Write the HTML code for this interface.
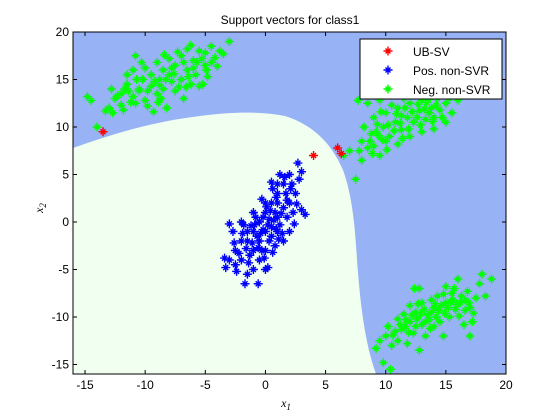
<!DOCTYPE html>
<html><head><meta charset="utf-8"><style>
body{margin:0;background:#fff;}
svg{display:block;font-family:"Liberation Sans",sans-serif;}
</style></head><body>
<svg id="chart" width="560" height="420" viewBox="0 0 560 420" xmlns="http://www.w3.org/2000/svg">
<rect x="0" y="0" width="560" height="420" fill="#ffffff"/>
<g id="plot">
<rect x="73" y="32" width="433" height="342" fill="#98b2f6"/>
<path fill="#f0fff0" d="M73,148 C110,135 150,122 200,116 C230,112 260,111 285,116 C310,124 330,140 343,170 C352,195 355,225 357,260 C360,300 364,340 376,374 L73,374 Z"/>
</g>
<g id="marks"></g>
<rect x="73" y="32" width="433" height="342" fill="none" stroke="#000" stroke-width="1"/>
<g id="axes"></g>
<text x="290" y="24" font-size="12" text-anchor="middle">Support vectors for class1</text>
<text x="286" y="407" font-size="12" font-family="Liberation Serif,serif" font-style="italic" text-anchor="middle">x<tspan font-size="9" dy="3">1</tspan></text>
<text transform="translate(43,208) rotate(-90)" font-size="12" font-family="Liberation Serif,serif" font-style="italic" text-anchor="middle">x<tspan font-size="9" dy="3">2</tspan></text>
<g>
<rect x="360" y="39" width="142" height="60" fill="#fff" stroke="#000"/>
<g id="legendMarks"></g>
<text x="413" y="56" font-size="12">UB-SV</text>
<text x="413" y="75" font-size="12">Pos. non-SVR</text>
<text x="413" y="94" font-size="12">Neg. non-SVR</text>
</g>
</svg>
<script>
const xTicks=[-15,-10,-5,0,5,10,15,20];
const yTicks=[-15,-10,-5,0,5,10,15,20];
const ubSV=[[-13.5,9.5],[4,7],[6,7.8],[6.3,7.2]];
const posPts=[[-2.5,-3],[-2,-4],[-1.5,-2],[-1,-1],[-0.5,0],[0,1],[0.5,2],[1,3],[1.5,4],[2,5],[0,-1],[0.5,-0.5],[1,0.5],[1.5,1.5],[-1,-3],[-0.5,-2],[0,-3],[0.5,-1.5],[1,-1],[-1.5,-1],[-2,0],[-1,1],[0,2],[1,4],[2,2],[2.5,3],[3,1.3],[2,-1],[1.5,-2],[-0.5,-4],[-1,-5],[-1.5,-5.5],[-2.5,-4.5],[-3,-4],[-2,-2],[-1.3,-3.5],[0.3,0.3],[-0.2,-0.8],[0.8,1],[1.2,-0.3],[0.6,3.5],[2.8,4.5],[3,5.3],[2.7,6.2],[2.2,4],[1.8,0.5],[-0.8,0.5],[-1.8,-0.3],[-2.7,-1],[-3,-0.2],[0,-5],[-0.6,-6.5],[-1.7,-6.5],[-3.3,-4.8],[0.2,-4.8],[-0.3,-3],[1,2],[2.3,1],[1.2,5],[0.8,-2.5],[0.3,-2],[-0.7,-1.5],[1.7,3],[0.4,1.2],[-1.2,-0.4],
[-0.2,0.5],[0.2,-0.3],[0.7,0.2],[-0.4,-1.2],[-1.1,-2.2],[-0.9,-0.3],[1.3,0.9],[1.8,2.3],[0.9,2.6],[0.1,1.6],[-0.6,-2.7],[-1.6,-2.8],[-2.2,-3.3],[-1.9,-1.2],[1.4,-1.2],[2.4,-0.2],[2.6,1.9],[0.5,4.2],[1.6,4.7],[-0.1,-3.8],[-1.4,-4.3],[-2.4,-5.2],[0.6,-3.2],[1.1,-1.8],[-0.3,2.4],[2.1,3.5],[-2.6,-2.2],[3.3,0.8],[-3.4,-3.8],[0.9,-0.8]];
const negA=[[-14.8,13.2],[-14.5,12.8],[-14,10],[-13.3,11.7],[-13,12],[-12.8,14],[-12.5,13],[-12,13.5],[-12,12.3],[-11.5,14.5],[-11.5,15.5],[-11,13.2],[-11,16],[-10.8,17.5],[-10.5,14],[-10.2,15],[-10,12.8],[-10,16.2],[-9.5,14.3],[-9.5,15.5],[-9.3,11.6],[-9,13.5],[-9,16.8],[-8.8,15],[-8.5,14],[-8.5,16],[-8.2,12],[-8,15.5],[-8,17.2],[-7.5,13.8],[-7.5,16.5],[-7,15],[-7,17.5],[-6.8,13],[-6.5,16],[-6.5,18.2],[-6.2,14.5],[-6,17],[-5.8,15.5],[-5.5,18],[-5.5,14.3],[-5,16.5],[-5,17.8],[-4.8,15.3],[-4.5,18.5],[-4.5,16.8],[-4.2,17.3],[-3.8,18],[-3.5,17.7],[-5.2,14.5],[-3,19],[-12.3,13.3],[-10.5,13.8],[-8.8,14.4],[-7.8,14.8],
[-12.7,11.5],[-11.8,11.8],[-11.2,12.6],[-10.7,15],[-9.8,13.8],[-9.2,14.8],[-8.7,13],[-8.3,15],[-7.8,16.2],[-7.2,14.2],[-6.8,16.8],[-6.4,15.3],[-6,16.2],[-5.7,16.8],[-5.3,17.2],[-4.9,16],[-7.3,17.9],[-8.4,17.6],[-9.8,12.2],[-10.8,12.5],[-11.4,13.8],[-6.6,14.2],[-7.6,15.6],[-8.9,12.6],[-4,16.4],[-6.2,18.6],[-10.3,16.8],[-11.7,14]];
const negC=[[6.5,7],[7,7.5],[7.8,7.5],[7.5,4.5],[8,6.5],[8,8.5],[8.2,10],[8.5,7.8],[8.5,12.5],[9,8],[9,11],[9.2,9.5],[9.5,7],[9.5,12.8],[9.8,10],[10,8.5],[10,11.5],[10.3,9],[10.5,13.5],[10.8,10.5],[11,8.2],[11,12],[11.3,9.7],[11.5,13],[11.8,11],[12,9],[12,12.5],[12.3,10.5],[12.5,13.8],[12.8,11.7],[13,9.5],[13,12.8],[13.3,10.8],[13.5,13.5],[13.8,12],[14,11],[14,9.8],[14.3,13],[14.5,11.8],[15,12.5],[15,10.5],[15.5,11.5],[16,12.8],[16.3,13.3],[15.8,13.8],[11.3,11.2],[10.7,9.6],[9.7,8.7],[12.6,11],[13.6,11.5],[8.8,9.3],[7.7,12.8],
[8.7,8.5],[9.3,10.3],[9.6,11.6],[10.2,10.2],[10.5,12.3],[10.9,11.4],[11.2,10.4],[11.6,12],[11.9,9.8],[12.2,11.6],[12.7,12.4],[13.2,11.9],[13.4,12.6],[13.9,10.6],[14.2,12.3],[14.7,11],[11.4,8.8],[10.1,7.6],[8.9,7.2],[9.4,9.1],[12.9,10.2],[15.3,13],[14.8,13.6],[13.7,13.1]];
const negD=[[9.2,-13.3],[9.5,-12.5],[9.8,-14.8],[10,-12],[10.2,-11],[10.4,-15.5],[10.5,-13],[11,-10.2],[11,-12.5],[11.3,-11.3],[11.5,-9.7],[11.8,-12.8],[12,-10.5],[12,-8.8],[12.3,-11.7],[12.5,-9.5],[12.8,-13.5],[13,-10.8],[13,-8.5],[13.3,-12],[13.5,-9.8],[13.8,-8.2],[14,-11],[14,-9],[14.3,-7.8],[14.5,-10.5],[14.8,-12],[15,-8.5],[15,-6.8],[15.3,-10],[15.5,-7.5],[15.8,-9.2],[16,-6],[16.2,-8.5],[16.5,-10.8],[16.8,-7.3],[17,-9],[17.2,-10.5],[17,-12],[17.5,-8],[17.8,-6.5],[18,-5.5],[18.3,-7.8],[18.8,-6],[10.8,-11.5],[12.6,-10.2],[13.6,-10.3],[14.6,-8.8],[11.6,-11],[15.6,-8.2],[16.6,-9.3],[12.4,-7],[12.8,-7],
[11.2,-10.8],[11.7,-10.3],[12.2,-9.8],[12.9,-9.7],[13.2,-9.2],[13.3,-10.5],[13.8,-9.5],[14.2,-10],[14.4,-9.3],[14.9,-9.6],[15.2,-9],[15.4,-8.4],[15.9,-8.7],[16.3,-7.8],[16.6,-8.2],[16.9,-8.5],[15.7,-7],[14.8,-7.6],[13.7,-11.2],[12.5,-11],[11.9,-11.6],[10.6,-11.9],[16.1,-9.9],[17.3,-9.6],[14.1,-8.6],[12.7,-8.6]];

const X0=73,X1=506,Y0=374,Y1=32,XMIN=-16,XMAX=20,YMIN=-16,YMAX=20;
function sx(v){return X0+(v-XMIN)/(XMAX-XMIN)*(X1-X0);}
function sy(v){return Y0-(v-YMIN)/(YMAX-YMIN)*(Y0-Y1);}
const NS='http://www.w3.org/2000/svg';
function star(x,y){return `M${x-4.5},${y}h9M${x},${y-4.5}v9M${x-2.5},${y-2.5}l5,5M${x-2.5},${y+2.5}l5,-5`;}
function series(pts,color,name){
  const p=document.createElementNS(NS,'path');
  
  
  p.setAttribute('d',pts.map(d=>star(sx(d[0]),sy(d[1]))).join(''));
  p.setAttribute('stroke',color);p.setAttribute('fill','none');p.setAttribute('stroke-width','1.4');
  document.getElementById('marks').appendChild(p);
}
series(posPts,'#0000ff','pos-non-svr-points');
series(negA,'#00ff00','neg-cluster-upper-left');
series(negC,'#00ff00','neg-cluster-upper-right');
series(negD,'#00ff00','neg-cluster-lower-right');
series(ubSV,'#ff0000','ub-sv-points');
const ax=document.getElementById('axes');
xTicks.forEach(t=>{
  const x=sx(t);
  const l=document.createElementNS(NS,'path');
  
  
  l.setAttribute('d',`M${x},${Y0}v-4M${x},${Y1}v4`);l.setAttribute('stroke','#000');
  ax.appendChild(l);
  const tx=document.createElementNS(NS,'text');
  
  
  tx.setAttribute('x',x);tx.setAttribute('y',Y0+15);tx.setAttribute('font-size','12');tx.setAttribute('text-anchor','middle');
  tx.textContent=t;ax.appendChild(tx);
});
yTicks.forEach(t=>{
  const y=sy(t);
  const l=document.createElementNS(NS,'path');
  
  
  l.setAttribute('d',`M${X0},${y}h4M${X1},${y}h-4`);l.setAttribute('stroke','#000');
  ax.appendChild(l);
  const tx=document.createElementNS(NS,'text');
  
  
  tx.setAttribute('x',X0-4);tx.setAttribute('y',y+4);tx.setAttribute('font-size','12');tx.setAttribute('text-anchor','end');
  tx.textContent=t;ax.appendChild(tx);
});
const lm=document.getElementById('legendMarks');
[['#ff0000',51],['#0000ff',70],['#00ff00',89]].forEach(([c,y])=>{
  const p=document.createElementNS(NS,'path');
  
  
  p.setAttribute('d',star(388,y));p.setAttribute('stroke',c);p.setAttribute('fill','none');p.setAttribute('stroke-width','1.4');
  lm.appendChild(p);
});
</script>
</body></html>
